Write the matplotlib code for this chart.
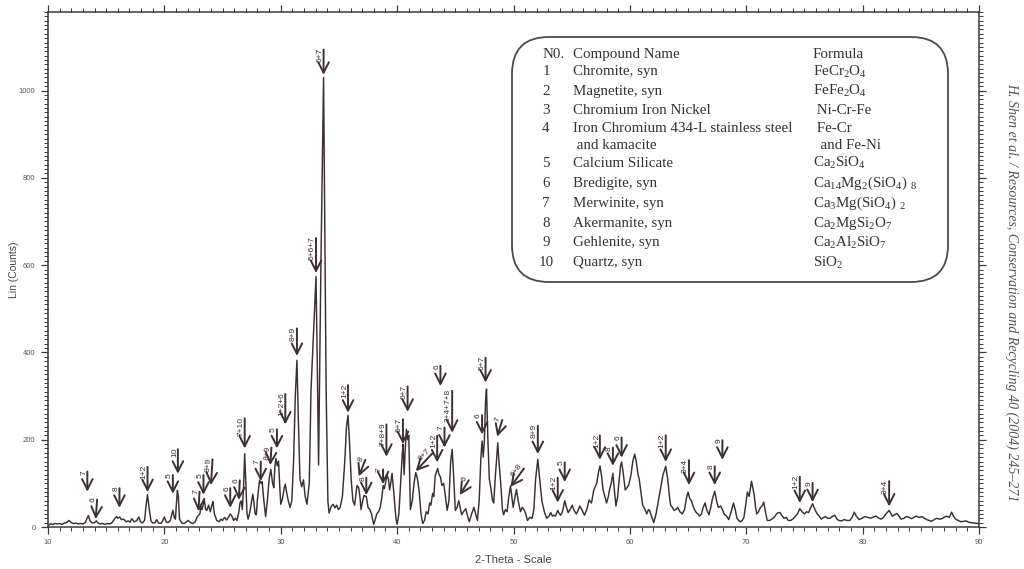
import numpy as np
import matplotlib
matplotlib.use("Agg")
import matplotlib.pyplot as plt
from matplotlib.ticker import MultipleLocator
from matplotlib.patches import FancyBboxPatch

# ---- diffraction trace: (2-theta, counts) ----
trace = [
    (10.0, 3), (10.2, 7), (10.4, 6), (10.6, 8), (10.8, 7), (11.0, 8), (11.2, 6), (11.4, 9),
    (11.6, 10), (11.8, 15), (12.0, 10), (12.2, 8), (12.4, 9), (12.6, 7), (12.8, 8), (13.0, 7),
    (13.2, 10), (13.35, 20), (13.47, 26), (13.6, 15), (13.8, 9), (14.0, 10), (14.15, 14),
    (14.3, 9), (14.5, 7), (14.7, 8), (14.9, 6), (15.1, 8), (15.3, 7), (15.5, 10), (15.7, 18),
    (15.9, 24), (16.0, 20), (16.15, 23), (16.3, 17), (16.5, 18), (16.7, 12), (16.9, 14),
    (17.05, 11), (17.2, 19), (17.4, 12), (17.6, 14), (17.8, 23), (17.95, 12), (18.1, 9),
    (18.3, 15), (18.45, 55), (18.55, 74), (18.68, 45), (18.85, 14), (19.0, 9), (19.2, 10),
    (19.35, 17), (19.5, 9), (19.7, 8), (19.85, 14), (20.0, 23), (20.15, 12), (20.3, 10),
    (20.5, 14), (20.6, 25), (20.73, 38), (20.85, 22), (20.95, 18), (21.05, 60), (21.12, 84),
    (21.2, 70), (21.3, 18), (21.5, 9), (21.7, 8), (21.9, 12), (22.05, 15), (22.25, 10),
    (22.45, 8), (22.65, 12), (22.8, 22), (22.93, 27), (23.05, 30), (23.15, 47), (23.25, 40),
    (23.42, 64), (23.55, 40), (23.65, 38), (23.8, 50), (23.95, 35), (24.1, 52), (24.17, 58),
    (24.3, 30), (24.5, 15), (24.7, 12), (24.85, 18), (25.0, 15), (25.17, 22), (25.35, 16),
    (25.5, 22), (25.66, 30), (25.8, 25), (25.95, 15), (26.1, 20), (26.25, 15), (26.4, 35),
    (26.5, 55), (26.6, 60), (26.7, 40), (26.8, 90), (26.9, 168), (27.0, 100), (27.1, 30),
    (27.2, 18), (27.35, 35), (27.5, 60), (27.6, 75), (27.7, 55), (27.8, 30), (27.9, 28),
    (28.0, 65), (28.18, 107), (28.3, 100), (28.4, 104), (28.55, 60), (28.7, 24), (28.85, 60),
    (29.0, 110), (29.15, 132), (29.3, 100), (29.4, 90), (29.5, 140), (29.59, 157), (29.7, 140),
    (29.81, 151), (29.9, 100), (30.0, 52), (30.15, 65), (30.3, 90), (30.39, 98), (30.5, 80),
    (30.65, 60), (30.8, 45), (30.95, 60), (31.1, 150), (31.25, 300), (31.39, 382), (31.5, 260),
    (31.65, 110), (31.8, 92), (31.95, 108), (32.1, 70), (32.25, 52), (32.45, 100), (32.6, 314),
    (33.03, 574), (33.15, 350), (33.25, 142), (33.45, 600), (33.68, 1030), (33.9, 314),
    (34.05, 60), (34.15, 32), (34.35, 48), (34.5, 52), (34.65, 44), (34.8, 50), (34.95, 40),
    (35.1, 45), (35.3, 70), (35.5, 150), (35.65, 230), (35.78, 256), (35.9, 200), (36.05, 110),
    (36.2, 60), (36.35, 50), (36.55, 95), (36.7, 90), (36.8, 70), (36.9, 40), (37.0, 55),
    (37.15, 72), (37.35, 70), (37.5, 45), (37.65, 40), (37.8, 30), (37.98, 6), (38.1, 15),
    (38.25, 30), (38.4, 35), (38.55, 45), (38.7, 70), (38.8, 95), (38.9, 88), (39.0, 100),
    (39.13, 119), (39.25, 110), (39.35, 85), (39.45, 100), (39.56, 123), (39.68, 90),
    (39.8, 50), (39.9, 20), (40.0, 6), (40.15, 30), (40.3, 100), (40.45, 170), (40.51, 190),
    (40.6, 120), (40.7, 180), (40.8, 224), (40.9, 200), (41.0, 210), (41.07, 120), (41.14, 40),
    (41.3, 60), (41.45, 100), (41.6, 125), (41.75, 110), (41.9, 80), (42.05, 30), (42.2, 8),
    (42.35, 15), (42.5, 35), (42.65, 30), (42.8, 55), (42.9, 50), (43.05, 77), (43.15, 70),
    (43.27, 117), (43.4, 128), (43.49, 134), (43.6, 120), (43.72, 115), (43.85, 95),
    (44.0, 100), (44.15, 70), (44.3, 38), (44.45, 60), (44.6, 150), (44.73, 178), (44.85, 120),
    (45.0, 38), (45.15, 45), (45.3, 60), (45.45, 40), (45.55, 28), (45.7, 35), (45.9, 42),
    (46.05, 25), (46.2, 12), (46.4, 30), (46.6, 45), (46.75, 30), (46.9, 15), (47.05, 60),
    (47.2, 160), (47.3, 197), (47.4, 160), (47.5, 200), (47.6, 290), (47.68, 316), (47.8, 200),
    (47.92, 110), (48.05, 90), (48.2, 60), (48.3, 55), (48.45, 120), (48.65, 193), (48.75, 150),
    (48.9, 100), (49.05, 40), (49.15, 28), (49.3, 40), (49.45, 35), (49.6, 70), (49.74, 94),
    (49.85, 70), (49.97, 45), (50.1, 65), (50.26, 86), (50.4, 60), (50.6, 35), (50.75, 45),
    (50.9, 40), (51.05, 30), (51.2, 15), (51.4, 22), (51.6, 20), (51.75, 40), (51.9, 110),
    (52.09, 155), (52.25, 110), (52.45, 58), (52.65, 35), (52.85, 20), (53.05, 25), (53.2, 33),
    (53.35, 25), (53.45, 27), (53.6, 25), (53.8, 38), (53.95, 30), (54.05, 27), (54.2, 35),
    (54.41, 60), (54.55, 45), (54.7, 33), (54.9, 42), (55.05, 50), (55.2, 38), (55.4, 30),
    (55.55, 38), (55.7, 48), (55.9, 38), (56.1, 27), (56.3, 40), (56.5, 62), (56.7, 55),
    (56.9, 85), (57.15, 100), (57.3, 125), (57.43, 140), (57.55, 120), (57.7, 85), (57.85, 70),
    (58.0, 55), (58.15, 70), (58.25, 85), (58.4, 100), (58.54, 123), (58.65, 90), (58.8, 48),
    (58.95, 70), (59.05, 100), (59.2, 140), (59.29, 149), (59.4, 130), (59.6, 85), (59.75, 90),
    (59.9, 96), (60.1, 120), (60.25, 150), (60.41, 167), (60.55, 150), (60.7, 120), (60.8, 110),
    (60.95, 80), (61.1, 50), (61.3, 40), (61.45, 30), (61.6, 40), (61.7, 38), (61.85, 25),
    (62.05, 10), (62.25, 30), (62.45, 60), (62.65, 90), (62.85, 120), (63.08, 139), (63.25, 110),
    (63.4, 70), (63.5, 50), (63.65, 45), (63.8, 38), (63.95, 40), (64.1, 45), (64.3, 35),
    (64.5, 30), (64.7, 40), (64.85, 65), (65.0, 80), (65.15, 65), (65.3, 60), (65.4, 50),
    (65.55, 40), (65.7, 33), (65.85, 30), (66.0, 25), (66.15, 30), (66.3, 45), (66.46, 55),
    (66.6, 40), (66.8, 28), (66.95, 45), (67.1, 65), (67.29, 82), (67.45, 60), (67.6, 45),
    (67.8, 48), (67.95, 40), (68.1, 30), (68.3, 25), (68.5, 17), (68.7, 35), (68.9, 55),
    (69.05, 40), (69.2, 20), (69.35, 15), (69.5, 12), (69.65, 15), (69.8, 22), (69.95, 50),
    (70.1, 80), (70.25, 70), (70.45, 105), (70.6, 85), (70.7, 70), (70.8, 45), (70.9, 30),
    (71.05, 35), (71.2, 44), (71.35, 48), (71.5, 57), (71.65, 35), (71.8, 15), (72.0, 15),
    (72.2, 18), (72.4, 22), (72.6, 30), (72.75, 33), (72.9, 33), (73.1, 25), (73.25, 20),
    (73.45, 22), (73.6, 15), (73.8, 15), (74.0, 18), (74.2, 24), (74.4, 30), (74.6, 42),
    (74.8, 35), (75.0, 30), (75.2, 35), (75.35, 33), (75.55, 45), (75.7, 53), (75.9, 40),
    (76.1, 30), (76.3, 24), (76.45, 18), (76.65, 22), (76.8, 24), (77.0, 20), (77.2, 20),
    (77.4, 24), (77.6, 27), (77.8, 18), (77.95, 15), (78.2, 14), (78.4, 17), (78.65, 15),
    (78.9, 15), (79.1, 22), (79.28, 34), (79.45, 25), (79.7, 17), (79.95, 20), (80.2, 24),
    (80.45, 22), (80.7, 20), (80.95, 23), (81.15, 25), (81.4, 20), (81.6, 18), (81.8, 22),
    (82.0, 30), (82.28, 38), (82.45, 30), (82.55, 25), (82.75, 28), (82.95, 31), (83.1, 26),
    (83.3, 18), (83.55, 20), (83.75, 24), (84.0, 22), (84.2, 19), (84.4, 22), (84.6, 25),
    (84.85, 22), (85.1, 24), (85.3, 20), (85.5, 17), (85.7, 15), (85.9, 13), (86.1, 16),
    (86.35, 20), (86.6, 18), (86.8, 19), (87.0, 22), (87.2, 25), (87.45, 22), (87.65, 34),
    (87.8, 25), (88.0, 18), (88.2, 15), (88.45, 12), (88.7, 13), (88.9, 14), (89.1, 11),
    (89.3, 10), (89.6, 9), (89.9, 8), (90.0, 7),
]
two_theta = [p[0] for p in trace]
counts = [p[1] for p in trace]

# ---- phase markers: label, arrow tip (2-theta, counts), arrow tail (2-theta, counts) ----
peak_labels = ["7", "6", "8", "1+2", "5", "10", "7", "5", "8+9", "6", "6", "7+10", "7",
               "8+9", "5", "1+2+6", "8+9", "5+6+7", "6+7", "1+2", "8", "8", "7", "7+8+9",
               "6+7", "6+7", "8+7", "1+2", "6", "7", "3+4+7+8", "6", "6", "5+7", "7", "6+8",
               "8+9", "1+2", "5", "1+2", "8", "6", "1+2", "3+4", "8", "9", "1+2", "9", "3+4"]
tip_x = [13.38, 14.1, 16.14, 18.55, 20.73, 21.16, 22.93, 23.36, 24.0, 25.66, 26.4, 26.9, 28.28,
         29.1, 29.67, 30.39, 31.39, 33.03, 33.68, 35.78, 36.7, 37.35, 38.79, 39.08,
         40.5, 40.9, 41.6, 43.44, 43.72, 44.07, 44.73, 45.38, 47.3, 47.6, 48.6, 49.74,
         52.09, 53.8, 54.4, 57.42, 58.54, 59.29, 63.08, 65.08, 67.29, 67.95, 74.6, 75.7, 82.28]
tip_y = [81, 18, 44, 80, 76, 122, 36, 74, 96, 44, 62, 180, 105,
         142, 180, 235, 392, 582, 1036, 262, 116, 73, 98, 161,
         190, 264, 128, 148, 323, 182, 216, 73, 212, 331, 207, 92,
         167, 56, 103, 154, 140, 159, 149, 96, 96, 154, 55, 57, 47]
tail_x = [13.38, 14.22, 16.14, 18.55, 20.73, 21.16, 23.02, 23.36, 24.14, 25.66, 26.48, 26.9, 28.28,
          29.2, 29.67, 30.39, 31.39, 33.03, 33.68, 35.78, 37.27, 37.35, 38.79, 39.08,
          40.5, 40.9, 43.0, 43.44, 43.72, 44.07, 44.73, 46.15, 47.3, 47.6, 49.03, 50.9,
          52.09, 53.8, 54.4, 57.42, 58.54, 59.29, 63.08, 65.08, 67.29, 67.95, 74.6, 75.7, 82.28]
tail_y = [127, 63, 89, 138, 119, 178, 81, 119, 155, 89, 107, 249, 150,
          182, 224, 305, 455, 662, 1094, 325, 154, 113, 132, 235,
          247, 322, 168, 209, 369, 228, 312, 107, 256, 388, 245, 134,
          232, 113, 148, 210, 182, 205, 210, 153, 139, 199, 115, 101, 105]

# ---- phase table ----
compound_no = ["1", "2", "3", "4", "", "5", "6", "7", "8", "9", "10"]
compound_names = ["Chromite, syn", "Magnetite, syn", "Chromium Iron Nickel",
                  "Iron Chromium 434-L stainless steel", " and kamacite", "Calcium Silicate",
                  "Bredigite, syn", "Merwinite, syn", "Akermanite, syn", "Gehlenite, syn",
                  "Quartz, syn"]
compound_formulas = [r"FeCr$_2$O$_4$", r"FeFe$_2$O$_4$", " Ni-Cr-Fe", " Fe-Cr", "  and Fe-Ni",
                     r"Ca$_2$SiO$_4$", r"Ca$_{14}$Mg$_2$(SiO$_4$) $_8$",
                     r"Ca$_3$Mg(SiO$_4$) $_2$", r"Ca$_2$MgSi$_2$O$_7$",
                     r"Ca$_2$Al$_2$SiO$_7$", r"SiO$_2$"]

plt.rcParams["mathtext.fontset"] = "custom"
plt.rcParams["mathtext.rm"] = "Liberation Serif"
plt.rcParams["mathtext.it"] = "Liberation Serif:italic"
plt.rcParams["mathtext.bf"] = "Liberation Serif:bold"

W, H = 1024, 569
fig = plt.figure(figsize=(W / 100, H / 100), dpi=100)
fig.patch.set_facecolor("white")

ax_l, ax_r, ax_t, ax_b = 48, 979, 12, 527
ax = fig.add_axes([ax_l / W, 1 - ax_b / H, (ax_r - ax_l) / W, (ax_b - ax_t) / H])

ink = "#3a2f33"
ax.plot(two_theta, counts, color=ink, lw=1.05, solid_joinstyle="round")
ax.set_xlim(10, 90)
ax.set_ylim(0, 1180)

for s in ax.spines.values():
    s.set_color("#3a3a3a")
    s.set_linewidth(1.1)
ax.xaxis.set_major_locator(MultipleLocator(10))
ax.xaxis.set_minor_locator(MultipleLocator(1))
ax.yaxis.set_major_locator(MultipleLocator(200))
ax.yaxis.set_minor_locator(MultipleLocator(10))
ax.tick_params(which="both", direction="out", top=True, right=True, color="#3a3a3a",
               labelsize=5.5, labelcolor="#555555")
ax.tick_params(which="major", length=5, width=0.9, pad=4)
ax.tick_params(which="minor", length=3, width=0.7)
for lab in ax.get_xticklabels() + ax.get_yticklabels():
    lab.set_family("Liberation Sans")

# axis titles
fig.text((ax_l + ax_r) / 2 / W, 1 - 560 / H, "2-Theta - Scale", ha="center", va="center",
         fontsize=8, family="Liberation Sans", color="#444444")
fig.text(14 / W, 1 - (ax_t + ax_b) / 2 / H, "Lin (Counts)", rotation=90, ha="center",
         va="center", fontsize=7.5, family="Liberation Sans", color="#444444")

# phase marker arrows with their labels running along the shaft
fig.canvas.draw()
for lab, x0, y0, x1, y1 in zip(peak_labels, tip_x, tip_y, tail_x, tail_y):
    ax.annotate("", xy=(x0, y0), xytext=(x1, y1),
                arrowprops=dict(arrowstyle="->,head_length=0.75,head_width=0.38",
                                lw=1.4, color=ink, shrinkA=0, shrinkB=0))
    p0 = ax.transData.transform((x0, y0))
    p1 = ax.transData.transform((x1, y1))
    ang = np.degrees(np.arctan2(p1[1] - p0[1], p1[0] - p0[0]))
    ax.annotate(lab, xy=(x1, y1), xytext=(0, 1.2), textcoords="offset points",
                rotation=ang, rotation_mode="anchor", ha="right", va="bottom",
                fontsize=6, family="Liberation Sans", color=ink)

# phase table in a rounded frame
bx0, bx1, by0, by1 = 512, 948, 37, 282
box = FancyBboxPatch((bx0 / W, 1 - by1 / H), (bx1 - bx0) / W, (by1 - by0) / H,
                     boxstyle="round,pad=0,rounding_size=0.036",
                     mutation_aspect=W / H, transform=fig.transFigure,
                     facecolor="white", edgecolor="#4a4a4a", lw=1.3, zorder=5)
fig.patches.append(box)

tfont = dict(family="Liberation Serif", fontsize=10.8, color="#333333", va="center", zorder=6)
fig.text(543 / W, 1 - 54.3 / H, "N0.", ha="left", **tfont)
fig.text(573 / W, 1 - 54.3 / H, "Compound Name", ha="left", **tfont)
fig.text(813 / W, 1 - 54.3 / H, "Formula", ha="left", **tfont)
row_y = [71.7, 91, 110.7, 129, 146, 163.3, 183.3, 203.3, 223.3, 242.7, 262.7]
for yy, n, name, form in zip(row_y, compound_no, compound_names, compound_formulas):
    fig.text(546 / W, 1 - yy / H, n, ha="center", **tfont)
    fig.text(573 / W, 1 - yy / H, name, ha="left", **tfont)
    fig.text(813 / W, 1 - yy / H, form, ha="left", **tfont)

# journal citation along the right edge
fig.text(1012 / W, 1 - 292 / H,
         "H. Shen et al. / Resources, Conservation and Recycling 40 (2004) 245\u2013271",
         rotation=-90, ha="center", va="center", family="Liberation Serif", style="italic",
         fontsize=10, color="#555555")

fig.savefig("out.png", dpi=100, facecolor="white")
